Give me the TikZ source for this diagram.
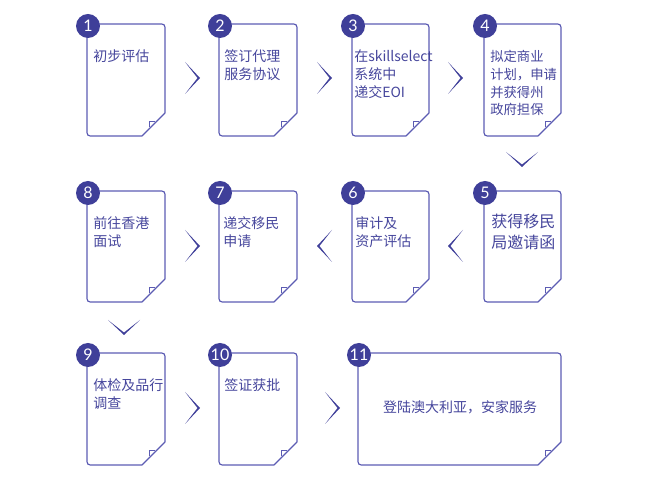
\documentclass[tikz,border=0pt]{standalone}
\usepackage{fontspec}
\setmainfont{Noto Sans CJK SC}
\newfontfamily\numfont{Lato}
\definecolor{badgeblue}{HTML}{3F3F99}
\definecolor{lineblue}{HTML}{5C5CB3}
\definecolor{textblue}{HTML}{46469C}

% card outline: left, top, right, bottom, badge number
\newcommand{\papercard}[5]{%
  \draw[cardline] (#1,#2) -- (#3-7,#2) .. controls (#3,#2) .. (#3,#2+7) -- (#3,#4-23) -- (#3-23,#4) -- (#1+7,#4) .. controls (#1,#4) .. (#1,#4-7) -- cycle;
  \draw[cardline,line width=0.6pt] (#3-16,#4-9) -- (#3-16,#4-15) -- (#3-10,#4-15);
  \node[badge] (b#5) at (#1+1,#2+2) {#5};
}
% chevrons
\newcommand{\chevright}[2]{\fill[chev] (#1,#2-16) -- (#1+15,#2) -- (#1,#2+16) -- (#1+12.5,#2) -- cycle;}
\newcommand{\chevleft}[2]{\fill[chev] (#1+15,#2-16) -- (#1,#2) -- (#1+15,#2+16) -- (#1+2.5,#2) -- cycle;}
\newcommand{\chevdown}[2]{\fill[chev] (#1-16,#2) -- (#1,#2+15) -- (#1+16,#2) -- (#1,#2+12.5) -- cycle;}

\begin{document}
\begin{tikzpicture}[x=0.75pt,y=-0.75pt,
  cardline/.style={draw=lineblue,line width=0.9pt,line join=round},
  badge/.style={circle,fill=badgeblue,minimum size=18pt,inner sep=0pt,text=white,font=\numfont\fontsize{12}{12}\selectfont},
  chev/.style={fill=badgeblue},
  cardtext/.style={anchor=north west,inner sep=0pt,align=left,text=textblue,font=\fontsize{10.5}{13.5}\selectfont}]
\useasboundingbox (0,0) rectangle (651,484);

% row 1
\papercard{87}{24}{165}{136}{1}
\papercard{219}{24}{297}{136}{2}
\papercard{352}{24}{429}{136}{3}
\papercard{484}{24}{561}{136}{4}
\node[cardtext] (t1) at (93,49) {初步评估};
\node[cardtext] (t2) at (224,49) {签订代理\\服务协议};
\node[cardtext] (t3) at (354,49) {在skillselect\\系统中\\递交EOI};
\node[cardtext,font=\fontsize{10}{13.3}\selectfont] (t4) at (490,50) {拟定商业\\计划，申请\\并获得州\\政府担保};
\chevright{185}{78}
\chevright{317}{78}
\chevright{448}{78}
\chevdown{522}{152}

% row 2
\papercard{87}{191}{165}{302}{8}
\papercard{219}{191}{297}{302}{7}
\papercard{352}{191}{429}{302}{6}
\papercard{484}{191}{561}{302}{5}
\node[cardtext] (t8) at (93,216) {前往香港\\面试};
\node[cardtext] (t7) at (223,216) {递交移民\\申请};
\node[cardtext] (t6) at (355,216) {审计及\\资产评估};
\node[cardtext,font=\fontsize{12}{15.8}\selectfont] (t5) at (491,214) {获得移民\\局邀请函};
\chevright{185}{246}
\chevleft{317}{246}
\chevleft{448}{246}
\chevdown{124}{320}

% row 3
\papercard{87}{353}{165}{465}{9}
\papercard{219}{353}{297}{465}{10}
\papercard{358}{353}{561}{465}{11}
\node[cardtext] (t9) at (93,378) {体检及品行\\调查};
\node[cardtext] (t10) at (224,378) {签证获批};
\node[cardtext,anchor=center] (t11) at (460,407) {登陆澳大利亚，安家服务};
\chevright{185}{408}
\chevright{325}{408}
\end{tikzpicture}
\end{document}
